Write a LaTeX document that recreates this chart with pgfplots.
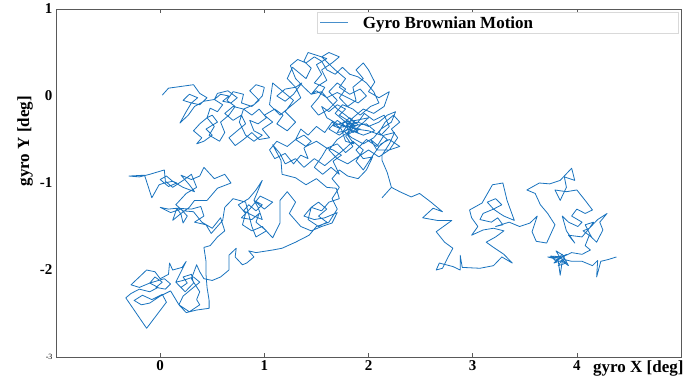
\documentclass[border=0pt]{standalone}
\usepackage{fontspec}
\setmainfont{Liberation Serif}
\usepackage{pgfplots}
\pgfplotsset{compat=1.18}
\definecolor{mblue}{RGB}{25,115,190}
\begin{document}
\begin{tikzpicture}
\begin{axis}[
 scale only axis, width=625pt, height=348pt,
 xmin=-1, xmax=5, ymin=-3, ymax=1,
 xtick={0,1,2,3,4}, ytick={-3,-2,-1,0,1},
 yticklabels={{\fontsize{8}{9}\selectfont\mdseries -3},-2,-1,0,1},
 tick align=inside,
 xtick pos=both, ytick pos=left,
 ytick style={draw=none},
 xtick style={draw=black!65, line width=0.6pt},
 major tick length=4pt,
 axis line style={draw=black!65, line width=0.9pt},
 /pgf/number format/assume math mode=true,
 tick label style={font=\fontsize{15}{17}\selectfont\bfseries},
 label style={font=\fontsize{17}{19}\selectfont\bfseries},
 xlabel={gyro X [deg]},
 ylabel={gyro Y [deg]},
 xlabel style={at={(axis description cs:1,0)}, anchor=north east, xshift=6pt},
 ylabel style={at={(axis description cs:-0.0496,0.62)}, anchor=center},
 legend style={at={(axis description cs:1,1)}, anchor=north east, xshift=-3pt, yshift=-3pt, draw=black!15, font=\fontsize{17}{19}\selectfont\bfseries},
 legend cell align=left,
 legend image code/.code={\draw[mblue!80, line width=0.8pt] (0pt,0pt) -- (28pt,0pt);},
 clip=false,
]
\addplot[mblue, line width=0.8pt, line join=round] coordinates {
(0.02,0.01) (0.08,0.09) (0.32,0.13) (0.38,0.03) (0.45,-0.02) (0.38,-0.1) (0.3,-0.08)
(0.22,-0.05) (0.28,0.02) (0.36,-0.02) (0.3,-0.08)
(0.25,-0.18) (0.19,-0.31) (0.27,-0.22)
(0.33,-0.12) (0.42,-0.06) (0.52,-0.04)
(0.58,0.02) (0.66,0.0) (0.6,-0.06) (0.68,-0.08) (0.74,-0.02) (0.65,0.06) (0.55,0.03) (0.52,-0.04)
(0.6,-0.1) (0.55,-0.18) (0.48,-0.14) (0.45,-0.25)
(0.38,-0.32) (0.32,-0.4) (0.4,-0.48) (0.35,-0.55) (0.42,-0.52) (0.5,-0.45) (0.44,-0.38) (0.55,-0.3) (0.5,-0.22) (0.45,-0.25)
(0.52,-0.35) (0.47,-0.45) (0.57,-0.52)
(0.62,-0.42) (0.58,-0.3) (0.66,-0.22) (0.72,-0.12) (0.64,-0.05) (0.7,0.05) (0.8,0.02) (0.78,-0.08) (0.88,-0.12) (0.95,-0.05)
(0.86,0.06) (0.92,0.13) (1.0,0.1) (0.98,0.0) (0.9,-0.1) (0.8,-0.15)
(0.88,-0.22) (0.95,-0.15) (1.02,-0.25) (0.94,-0.32) (0.86,-0.28) (0.9,-0.4) (0.98,-0.45) (0.9,-0.52) (0.82,-0.45) (0.76,-0.3) (0.8,-0.15)
(0.7,-0.12) (0.62,-0.2) (0.7,-0.28) (0.78,-0.22)
(0.82,-0.32) (0.74,-0.4) (0.66,-0.48) (0.72,-0.57) (0.8,-0.5) (0.88,-0.42) (0.95,-0.5) (1.05,-0.48) (0.98,-0.38) (1.08,-0.3)
(1.0,-0.22) (1.1,-0.15) (1.18,-0.22) (1.12,-0.32) (1.22,-0.4) (1.3,-0.3)
(1.2,-0.18) (1.28,-0.05) (1.18,0.05) (1.08,0.15) (1.05,-0.1) (1.15,-0.22) (1.25,-0.12) (1.35,-0.02) (1.3,0.1)
(1.2,0.08) (1.12,0.0) (1.2,-0.06) (1.28,0.02) (1.36,0.15) (1.3,0.1)
(1.22,0.2)
(1.27,0.33) (1.4,0.2) (1.45,0.32) (1.38,0.4) (1.42,0.5) (1.6,0.43) (1.5,0.36) (1.55,0.25) (1.48,0.15) (1.58,0.1)
(1.52,-0.02) (1.45,-0.12) (1.52,-0.22) (1.62,-0.15) (1.7,-0.05) (1.62,0.05) (1.7,0.15) (1.78,0.08) (1.72,-0.02) (1.8,-0.12)
(1.88,-0.05) (1.85,0.1) (1.95,0.2) (1.88,0.3) (1.95,0.38) (2.0,0.3) (2.06,0.16) (2.0,0.05) (2.1,-0.02) (2.2,0.05)
(2.15,-0.12) (2.05,-0.2) (1.95,-0.15) (1.85,-0.25) (1.78,-0.35) (1.7,-0.28) (1.62,-0.38) (1.72,-0.45) (1.8,-0.38) (1.9,-0.42)
(1.82,-0.3) (1.76,-0.4) (1.84,-0.48) (1.95,-0.55) (2.05,-0.48) (2.12,-0.38) (2.22,-0.3) (2.26,-0.18) (2.18,-0.22) (2.1,-0.3)
(2.0,-0.35) (1.9,-0.3) (1.8,-0.32)
(1.8,-0.35) (1.92,-0.38) (1.85,-0.42) (1.75,-0.32) (1.82,-0.25) (1.9,-0.33) (1.78,-0.4) (1.7,-0.42) (1.76,-0.3) (1.88,-0.28)
(2.0,-0.25) (1.9,-0.36) (1.8,-0.45) (1.86,-0.55) (1.78,-0.52) (1.74,-0.38) (1.66,-0.34) (1.78,-0.3) (1.84,-0.4) (1.95,-0.45)
(2.06,-0.4) (1.98,-0.32) (1.86,-0.34) (1.8,-0.28) (1.72,-0.22) (1.78,-0.15) (1.7,-0.1) (1.62,-0.18) (1.55,-0.12) (1.6,-0.25)
(1.7,-0.32) (1.8,-0.36) (1.9,-0.3) (1.96,-0.2) (2.05,-0.28) (2.15,-0.22) (2.2,-0.35) (2.12,-0.45) (2.0,-0.4) (1.88,-0.38) (1.8,-0.35)
(1.72,-0.36) (1.65,-0.3) (1.58,-0.42) (1.5,-0.35) (1.42,-0.45) (1.35,-0.38) (1.3,-0.5)
(1.22,-0.58) (1.12,-0.52) (1.05,-0.62) (1.1,-0.72) (1.2,-0.66) (1.28,-0.78) (1.35,-0.68) (1.42,-0.72) (1.38,-0.6) (1.45,-0.52) (1.38,-0.45) (1.3,-0.5)
(1.4,-0.58) (1.5,-0.52) (1.6,-0.6)
(1.55,-0.7) (1.48,-0.82) (1.56,-0.9) (1.64,-0.82) (1.72,-0.9) (1.66,-0.75) (1.74,-0.68) (1.66,-0.62) (1.6,-0.6)
(1.7,-0.55) (1.78,-0.65) (1.85,-0.58) (1.78,-0.46) (1.86,-0.36) (1.76,-0.28) (1.68,-0.2)
(1.75,-0.1) (1.85,-0.15) (1.92,-0.22) (2.02,-0.12) (2.1,-0.08) (2.05,0.05) (1.98,0.15) (1.9,0.22) (1.82,0.25) (1.75,0.33)
(1.68,0.25) (1.6,0.3) (1.55,0.4) (1.48,0.45) (1.4,0.38) (1.32,0.42) (1.25,0.35) (1.3,0.2) (1.38,0.1) (1.45,0.02)
(1.52,0.12) (1.6,0.18) (1.55,0.3) (1.65,0.38) (1.72,0.45) (1.62,0.5) (1.55,0.45) (1.68,0.3) (1.78,0.2) (1.72,0.1)
(1.82,0.02) (1.92,0.08) (1.98,0.0) (1.9,-0.08) (1.8,-0.02) (1.7,0.04) (1.6,-0.02) (1.5,0.06) (1.45,0.02)
(1.55,0.05) (1.62,-0.05) (1.7,-0.15) (1.78,-0.22) (1.86,-0.3) (1.8,-0.42) (1.7,-0.5) (1.62,-0.62) (1.7,-0.72) (1.8,-0.78)
(1.9,-0.7) (2.0,-0.62) (2.1,-0.7) (2.2,-0.62)
(2.28,-0.48) (2.22,-0.38) (2.3,-0.3) (2.24,-0.22) (2.16,-0.3) (2.1,-0.42) (2.18,-0.5) (2.1,-0.58) (2.02,-0.5) (2.08,-0.62) (2.2,-0.62)
(2.3,-0.58) (2.2,-0.5) (2.12,-0.55) (2.02,-0.72) (1.95,-0.85) (1.88,-0.75)
(1.95,-0.62) (1.85,-0.52) (1.78,-0.6) (1.68,-0.7) (1.58,-0.8) (1.48,-0.72) (1.38,-0.82) (1.3,-0.72) (1.2,-0.78) (1.15,-0.66)
(1.08,-0.56) (1.16,-0.74) (1.17,-0.9) (1.3,-0.94) (1.4,-1.02) (1.5,-0.95) (1.6,-1.05) (1.69,-1.06) (1.72,-1.18) (1.62,-1.22)
(1.55,-1.32) (1.45,-1.28)
(1.52,-1.22) (1.6,-1.3) (1.52,-1.38) (1.6,-1.45) (1.52,-1.5) (1.42,-1.42) (1.45,-1.28)
(1.38,-1.38) (1.48,-1.42) (1.58,-1.4) (1.7,-1.34) (1.65,-1.46) (1.55,-1.5) (1.45,-1.55) (1.35,-1.5)
(1.24,-1.35) (1.3,-1.22) (1.22,-1.1) (1.15,-1.2) (1.15,-1.46) (1.08,-1.63) (0.98,-1.5) (0.88,-1.55) (0.79,-1.48) (0.82,-1.35)
(0.75,-1.25) (0.85,-1.18) (0.92,-1.08) (0.98,-0.97) (0.9,-1.2)
(0.98,-1.25) (0.92,-1.32) (0.85,-1.25) (0.8,-1.32) (0.9,-1.38) (0.98,-1.42) (0.94,-1.28) (0.9,-1.2)
(1.0,-1.3) (1.08,-1.22) (0.96,-1.15) (0.86,-1.3) (0.78,-1.4)
(0.88,-1.42) (0.95,-1.35) (0.92,-1.45) (1.02,-1.55) (0.92,-1.62) (0.88,-1.5) (0.82,-1.22) (0.7,-1.18) (0.62,-1.28) (0.6,-1.43)
(0.49,-1.58) (0.44,-1.48) (0.33,-1.45) (0.42,-1.38) (0.39,-1.27) (0.3,-1.3) (0.16,-1.29)
(0.08,-1.3) (0.0,-1.28) (0.1,-1.34) (0.2,-1.3) (0.26,-1.38) (0.22,-1.46) (0.2,-1.36) (0.16,-1.29)
(0.12,-1.43) (0.2,-1.35) (0.28,-1.28)
(0.33,-1.2) (0.45,-1.2) (0.55,-1.06) (0.68,-1.0) (0.62,-0.9) (0.52,-0.95) (0.42,-0.82) (0.38,-0.92) (0.3,-0.96) (0.2,-0.91)
(0.28,-1.02) (0.33,-1.1) (0.22,-1.05) (0.12,-0.98)
(0.06,-0.92) (0.0,-0.96) (0.08,-1.04) (0.16,-1.0) (0.12,-0.98)
(0.04,-1.0) (-0.01,-1.02) (-0.08,-1.17) (-0.15,-0.91) (-0.3,-0.92) (-0.2,-0.93)
(-0.1,-0.9) (0.04,-0.85) (0.05,-0.98) (0.12,-1.05) (0.22,-0.97) (0.3,-0.9) (0.35,-1.05) (0.25,-1.12) (0.15,-1.25) (0.22,-1.32)
(0.32,-1.33) (0.4,-1.45) (0.5,-1.52) (0.58,-1.4) (0.62,-1.55) (0.55,-1.62) (0.48,-1.72) (0.42,-1.74) (0.44,-1.9) (0.44,-2.05)
(0.45,-2.2) (0.47,-2.35) (0.47,-2.44) (0.35,-2.46) (0.25,-2.49) (0.18,-2.4) (0.22,-2.3) (0.3,-2.22) (0.38,-2.14) (0.32,-2.08)
(0.22,-2.12) (0.15,-2.14)
(0.2,-2.2) (0.26,-2.15) (0.22,-2.08) (0.3,-2.05) (0.32,-2.15) (0.24,-2.25) (0.15,-2.14)
(0.2,-2.02) (0.25,-1.9) (0.21,-1.97) (0.12,-2.0) (0.09,-1.92) (0.08,-2.05) (0.0,-2.1) (-0.05,-2.02)
(-0.13,-2.0) (-0.2,-2.08) (-0.28,-2.17) (-0.2,-2.2) (-0.1,-2.15)
(-0.05,-2.08) (0.02,-2.14) (-0.04,-2.2) (0.05,-2.22) (0.1,-2.16) (0.04,-2.1) (-0.1,-2.15)
(-0.02,-2.2) (-0.1,-2.25) (-0.2,-2.22) (-0.28,-2.27) (-0.33,-2.32)
(-0.13,-2.67) (0.06,-2.37) (0.02,-2.28) (-0.08,-2.34) (-0.17,-2.29) (-0.25,-2.35) (-0.18,-2.4) (-0.1,-2.38) (0.0,-2.3) (0.1,-2.24)
(0.18,-2.4) (0.28,-2.48) (0.38,-2.4) (0.35,-2.34) (0.38,-2.25) (0.3,-2.1) (0.35,-1.94) (0.38,-2.02) (0.42,-2.1) (0.5,-2.12)
(0.58,-2.08) (0.63,-2.03) (0.66,-2.0) (0.66,-1.83) (0.73,-1.75) (0.72,-1.85) (0.79,-1.94) (0.83,-1.92) (0.9,-1.85) (0.85,-1.78)
(0.92,-1.8) (1.08,-1.77) (1.17,-1.75) (1.3,-1.68) (1.43,-1.6) (1.5,-1.5) (1.62,-1.45) (1.7,-1.3) (1.65,-1.18) (1.72,-1.05)
(1.65,-0.95) (1.72,-0.85) (1.8,-0.92) (1.9,-0.95) (1.98,-0.85) (2.04,-0.7) (1.95,-0.72) (1.88,-0.62) (1.98,-0.5) (2.08,-0.58)
(2.15,-0.45) (2.25,-0.42) (2.2,-0.55) (2.13,-0.68)
(2.13,-0.74) (2.18,-0.88) (2.22,-1.05) (2.13,-1.17) (2.22,-1.05) (2.3,-1.1) (2.41,-1.16) (2.49,-1.12) (2.6,-1.22) (2.71,-1.33)
(2.62,-1.29) (2.52,-1.4) (2.66,-1.43) (2.8,-1.43) (2.65,-1.56) (2.73,-1.68) (2.81,-1.75) (2.76,-1.86) (2.71,-1.98) (2.65,-2.0)
(2.68,-1.92) (2.81,-1.96) (2.88,-2.0) (2.88,-1.83) (2.9,-1.97) (3.07,-1.98) (3.2,-1.95) (3.28,-1.85) (3.38,-1.92) (3.3,-1.82)
(3.2,-1.74) (3.13,-1.68) (3.22,-1.62) (3.3,-1.55) (3.2,-1.52) (3.1,-1.54) (2.99,-1.6) (3.05,-1.5) (2.99,-1.4) (2.97,-1.31)
(3.09,-1.23) (3.19,-1.02) (3.29,-1.0) (3.33,-1.2) (3.4,-1.43) (3.3,-1.38) (3.26,-1.35) (3.2,-1.3)
(3.14,-1.22) (3.22,-1.18) (3.28,-1.25) (3.2,-1.3)
(3.1,-1.35) (3.07,-1.42)
(3.18,-1.45) (3.24,-1.4) (3.29,-1.48) (3.22,-1.5) (3.35,-1.45) (3.45,-1.5) (3.55,-1.46) (3.62,-1.38) (3.57,-1.56) (3.61,-1.67)
(3.71,-1.69) (3.79,-1.48) (3.72,-1.35) (3.65,-1.25) (3.6,-1.12) (3.52,-1.08) (3.64,-1.0) (3.74,-1.01) (3.84,-0.97) (3.95,-0.83)
(3.98,-0.97) (3.88,-0.93) (3.9,-1.05) (3.84,-1.2) (3.79,-1.08) (3.9,-1.1) (4.0,-1.08) (4.08,-1.2) (4.15,-1.31) (4.08,-1.35)
(4.0,-1.3) (3.95,-1.38) (4.05,-1.45) (4.01,-1.5) (3.92,-1.45) (3.86,-1.38) (3.9,-1.55) (3.98,-1.69) (3.92,-1.6) (4.05,-1.62)
(4.12,-1.52)
(4.06,-1.55) (4.14,-1.62) (4.08,-1.48) (4.16,-1.45) (4.12,-1.52)
(4.2,-1.42) (4.29,-1.35) (4.22,-1.45) (4.25,-1.54) (4.19,-1.68) (4.12,-1.6) (4.08,-1.72) (4.13,-1.77) (4.05,-1.82)
(3.95,-1.8) (3.88,-1.84) (3.8,-1.78) (3.84,-1.86)
(3.9,-1.82) (3.8,-1.9) (3.75,-1.84) (3.88,-1.85) (3.82,-1.95) (3.9,-1.92) (3.84,-1.86)
(3.72,-1.85) (3.82,-1.88) (3.84,-2.06) (3.86,-1.9) (3.92,-1.95) (3.86,-1.82)
(3.78,-1.92) (3.88,-1.88) (3.95,-1.9) (4.05,-1.9) (4.15,-1.95) (4.2,-1.89) (4.19,-2.08) (4.23,-1.9) (4.3,-1.88) (4.38,-1.85)
};
\addlegendentry{\hspace{12pt}\makebox[310pt][l]{Gyro Brownian Motion}}
\coordinate (bbsw) at (rel axis cs:-0.0896,-0.0546);
\coordinate (bbne) at (rel axis cs:1.024,1.0259);
\end{axis}
\pgfresetboundingbox
\useasboundingbox (bbsw) rectangle (bbne);
\end{tikzpicture}
\end{document}
